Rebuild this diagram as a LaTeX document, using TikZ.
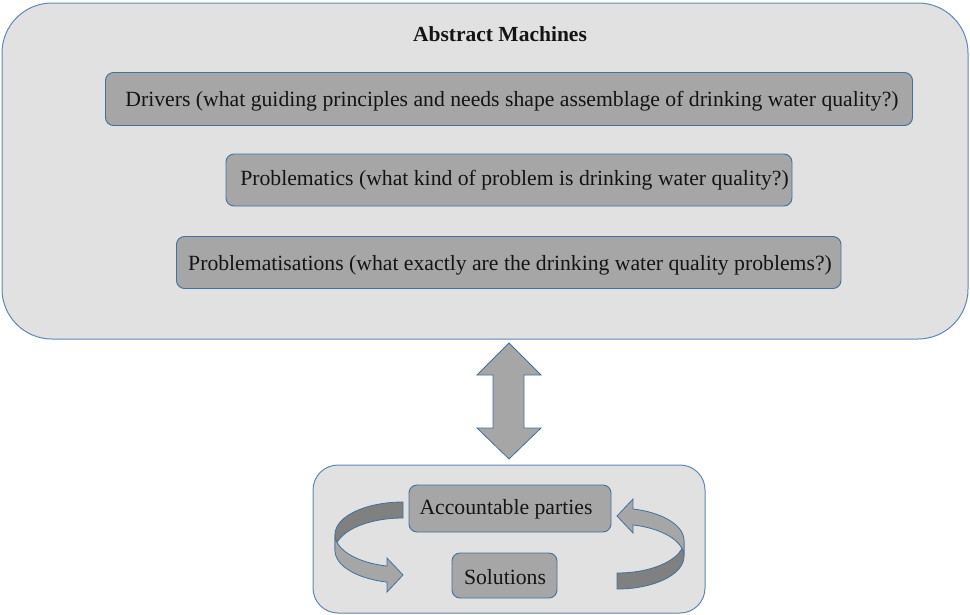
\documentclass[tikz,border=0pt]{standalone}
\usepackage{fontspec}
\setmainfont{Liberation Serif}
\definecolor{bgbox}{RGB}{225,225,225}
\definecolor{boxfill}{RGB}{166,166,166}
\definecolor{darkfill}{RGB}{128,128,128}
\definecolor{edgeblue}{RGB}{65,113,156}
\definecolor{outerblue}{RGB}{95,135,185}
\definecolor{txt}{RGB}{20,20,20}
\begin{document}
\begin{tikzpicture}[x=1pt,y=-1pt,
  outerbox/.style={fill=bgbox,draw=outerblue,line width=1pt},
  itembox/.style={fill=boxfill,draw=edgeblue,line width=0.9pt,rounded corners=8pt},
  itemtext/.style={anchor=base,inner sep=0pt,text=txt,font=\fontsize{21.7}{26}\selectfont},
  arrowshape/.style={fill=boxfill,draw=edgeblue,line width=0.8pt,line join=miter},
  darkshape/.style={fill=darkfill,draw=edgeblue,line width=0.8pt}]
\clip (0,0) rectangle (970,614);
% outer box
\draw[outerbox,rounded corners=50pt] (2,3) rectangle (968,339);
\node[itemtext,font=\fontsize{21.5}{26}\selectfont\bfseries] (title) at (500,41.5) {Abstract Machines};
% item boxes
\draw[itembox] (105.5,72.5) rectangle (912.5,125.5);
\node[itemtext] (drivers) at (512,106) {Drivers (what guiding principles and needs shape assemblage of drinking water quality?)};
\draw[itembox] (226,154) rectangle (792,206);
\node[itemtext] (problematics) at (514.5,185.5) {Problematics (what kind of problem is drinking water quality?)};
\draw[itembox] (176.5,236.5) rectangle (841,288.5);
\node[itemtext] (problematisations) at (510,270) {Problematisations (what exactly are the drinking water quality problems?)};
% double arrow
\draw[arrowshape] (509,343) -- (541,375) -- (524,375) -- (524,428) -- (541,428) -- (509,459)
  -- (477,428) -- (493,428) -- (493,375) -- (477,375) -- cycle;
% bottom box
\draw[outerbox,rounded corners=25pt] (313,465) rectangle (705,613);
\draw[itembox] (409,485) rectangle (611,532);
\node[itemtext] (parties) at (506,514) {Accountable parties};
\draw[itembox] (452,553) rectangle (557,598);
\node[itemtext] (solutions) at (505,584) {Solutions};
% left curved arrow
\draw[darkshape] (403,502) arc[start angle=-90,end angle=-180,x radius=68,y radius=32.5]
  -- ++(0,16) arc[start angle=180,end angle=270,x radius=68,y radius=32.5] -- cycle;
\draw[arrowshape] (335,534.5) arc[start angle=180,end angle=103.6,x radius=68,y radius=32.5]
  -- (387,558) -- (403,575) -- (387,592) -- (387,582.1)
  arc[start angle=103.6,end angle=180,x radius=68,y radius=32.5] -- cycle;
% right curved arrow
\draw[darkshape] (617,573) arc[start angle=90,end angle=0,x radius=67,y radius=32.5]
  -- ++(0,16) arc[start angle=0,end angle=90,x radius=67,y radius=32.5] -- cycle;
\draw[arrowshape] (684,540.5) arc[start angle=0,end angle=-76.2,x radius=67,y radius=32.5]
  -- (633,499) -- (617,516) -- (633,533) -- (633,524.9)
  arc[start angle=-76.2,end angle=0,x radius=67,y radius=32.5] -- cycle;
\end{tikzpicture}
\end{document}
